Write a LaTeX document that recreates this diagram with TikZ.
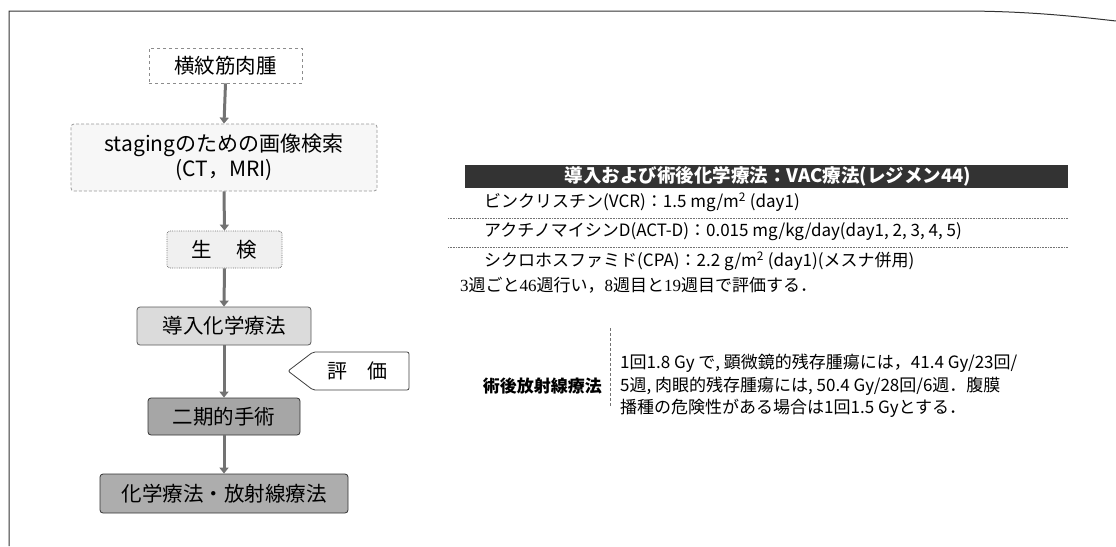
\documentclass[tikz,border=0pt]{standalone}
\usepackage{fontspec}
\setmainfont{Noto Sans CJK JP}
\newfontfamily\serifnum{Liberation Serif}
\usetikzlibrary{arrows.meta}
\begin{document}
\begin{tikzpicture}[x=1pt,y=-1pt,
  flowbox/.style={rounded corners=3pt, minimum height=37pt, inner sep=0pt, line width=0.8pt, font=\fontsize{20.5}{23}\selectfont},
  arr/.style={draw=black!55, line width=3pt, -{Triangle[width=9pt,length=6pt]}},
  rowtxt/.style={anchor=west, inner sep=0pt, font=\fontsize{17}{19}\selectfont},
  rule/.style={densely dotted, draw=black!55, line width=0.6pt}]
\useasboundingbox (0,0) rectangle (1116,546);
% frame
\draw[line width=1pt, black!80] (9,546) -- (9,11) -- (960,11) .. controls (1030,11) and (1080,17) .. (1116,21);
% flowchart
\node[flowbox, draw=black!45, dashed, rounded corners=0pt, minimum width=153pt, minimum height=35pt] (n1) at (225.5,65.5) {横紋筋肉腫};
\node[flowbox, draw=black!40, densely dashed, fill=black!3, minimum width=306pt, minimum height=67pt, align=center, font=\fontsize{21}{25}\selectfont] (n2) at (224,157.5) {stagingのための画像検索\\(CT，MRI)};
\node[flowbox, draw=black!55, densely dotted, fill=black!6, minimum width=115pt] (n3) at (224.5,249.5) {生\hspace{1.2em}検};
\node[flowbox, draw=black!65, fill=black!14, minimum width=174pt, minimum height=38pt] (n4) at (224,326) {導入化学療法};
\node[flowbox, draw=black!80, fill=black!35, minimum width=152pt] (n5) at (224,416.5) {二期的手術};
\node[flowbox, draw=black!80, fill=black!32, minimum width=248pt, minimum height=39pt] (n6) at (224,493.5) {化学療法・放射線療法};
\draw[arr] (n1.south) -- (n2.north);
\draw[arr] (n2.south) -- (n3.north);
\draw[arr] (n3.south) -- (n4.north);
\draw[arr] (n4.south) -- (n5.north);
\draw[arr] (n5.south) -- (n6.north);
% evaluation marker
\draw[draw=black!75, line width=0.8pt, rounded corners=2pt, fill=white] (288,371) -- (313,352) -- (409,352) -- (409,390) -- (313,390) -- cycle;
\node[font=\fontsize{20}{22}\selectfont, inner sep=0pt] (hyoka) at (357,371) {評\hspace{1em}価};
% chemo table
\fill[black!80] (465,165) rectangle (1068,188);
\node[text=white, inner sep=0pt, font=\bfseries\fontsize{18.5}{19}\selectfont] (hdr) at (768,176.5) {導入および術後化学療法：VAC療法(レジメン44)};
\node[rowtxt] (r1) at (484,202) {ビンクリスチン(VCR)：1.5 mg/m\textsuperscript{2} (day1)};
\draw[rule] (448,218) -- (1068,218);
\node[rowtxt] (r2) at (484,232) {アクチノマイシンD(ACT-D)：0.015 mg/kg/day(day1, 2, 3, 4, 5)};
\draw[rule] (448,247) -- (1068,247);
\node[rowtxt] (r3) at (484,261) {シクロホスファミド(CPA)：2.2 g/m\textsuperscript{2} (day1)(メスナ併用)};
\node[rowtxt] (r4) at (460,285) {{\serifnum 3}週ごと{\serifnum 46}週行い，{\serifnum 8}週目と{\serifnum 19}週目で評価する．};
% radiotherapy
\node[anchor=east, inner sep=0pt, font=\bfseries\fontsize{17}{19}\selectfont] (rt) at (602,386) {術後放射線療法};
\draw[densely dashed, draw=black!55, line width=0.6pt] (610,328) -- (610,407);
\node[anchor=west, align=left, inner sep=0pt, font=\fontsize{17}{22.5}\selectfont] (rtx) at (620,386) {1回1.8 Gy で, 顕微鏡的残存腫瘍には，41.4 Gy/23回/\\5週, 肉眼的残存腫瘍には, 50.4 Gy/28回/6週．腹膜\\播種の危険性がある場合は1回1.5 Gyとする．};
\end{tikzpicture}
\end{document}
